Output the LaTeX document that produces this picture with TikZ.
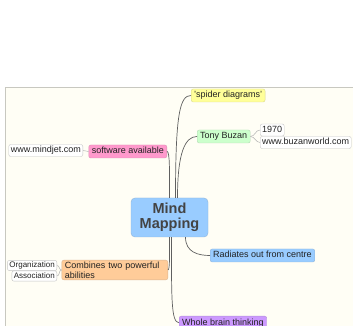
\documentclass[tikz,border=0pt]{standalone}
\usepackage{fontspec}
\setmainfont{Liberation Sans}
\usepackage{xcolor}
\usepackage{tikz}
\usetikzlibrary{calc}

\definecolor{paper}{HTML}{FFFEF5}
\definecolor{frame}{HTML}{C8C8C0}
\definecolor{ink}{HTML}{222222}
\definecolor{centreblue}{HTML}{99CCFF}
\definecolor{spideryellow}{HTML}{FFFF99}
\definecolor{buzangreen}{HTML}{CCFFCC}
\definecolor{softpink}{HTML}{FF99CC}
\definecolor{radblue}{HTML}{99CCFF}
\definecolor{combineorange}{HTML}{FFCC99}
\definecolor{brainpurple}{HTML}{CC99FF}

\begin{document}
\begin{tikzpicture}[
    x=1pt, y=1pt,
    bubble/.style={rectangle, rounded corners=2pt, draw=#1!70!gray, fill=#1, text=ink},
    topic/.style={bubble=#1, font=\fontsize{9}{10}\selectfont, inner xsep=3pt, inner ysep=2pt, text height=7pt, text depth=2pt},
    leaf/.style={bubble=white, draw=gray!45, font=\fontsize{9}{10}\selectfont, inner xsep=2pt, inner ysep=1.5pt, text height=7pt, text depth=2pt},
    tinyleaf/.style={leaf, font=\fontsize{8}{9}\selectfont, inner ysep=1pt, text height=6.5pt, text depth=1.8pt},
    centre/.style={bubble=centreblue, rounded corners=4pt, minimum width=77pt, minimum height=39pt, align=center, font=\bfseries\fontsize{14.5}{15}\selectfont, text=ink!85!white},
    branch/.style={draw=gray!75!black, line width=0.7pt},
    twig/.style={draw=gray!60, line width=0.5pt}
]
\useasboundingbox (0,0) rectangle (353,326);
\clip (0,0) rectangle (353,326);

% paper
\draw[frame, fill=paper, line width=0.8pt] (5,-10) rectangle (370,239);

% central topic
\node[centre] (mind) at (169.5,108.5) {Mind\\Mapping};

% main topics
\node[topic=spideryellow, anchor=west] (spider) at (191,230.5) {'spider diagrams'};
\node[topic=buzangreen, anchor=west] (tony) at (197,189.5) {Tony Buzan};
\node[topic=softpink, anchor=east] (software) at (167,174.5) {software available};
\node[topic=radblue, anchor=west] (radiates) at (210,70.5) {Radiates out from centre};
\node[bubble=combineorange, anchor=east, font=\fontsize{9}{10}\selectfont, text width=100pt, align=left, inner xsep=3pt, inner ysep=1.5pt] (combines) at (168,56) {Combines two powerful abilities};
\node[topic=brainpurple, anchor=north west] (whole) at (179,10) {Whole brain thinking};

% subtopics
\node[leaf, anchor=west] (year) at (260,196) {1970};
\node[leaf, anchor=west] (buzanweb) at (260,183.5) {www.buzanworld.com};
\node[leaf, anchor=east] (mindjet) at (83,175.5) {www.mindjet.com};
\node[tinyleaf, anchor=east] (organization) at (57,60.5) {Organization};
\node[tinyleaf, anchor=east] (association) at (57,50) {Association};

% branches from the centre
\draw[branch] ($(mind.north)+(6,0)$) .. controls +(0,85) and +(-11,0) .. (spider.west);
\draw[branch] ($(mind.north)+(8,0)$) .. controls +(0,45) and +(-12,0) .. (tony.west);
\draw[branch] (software.east) .. controls +(3,0) and +(0,25) .. (mind.north);
\draw[branch] (combines.east) .. controls +(2,0) and +(0,-15) .. (mind.south);
\draw[branch] ($(mind.south)+(2,0)$) .. controls +(0,-60) and +(-8,0) .. (whole.west);
\draw[branch] ($(mind.south)+(16,0)$) .. controls +(0,-15) and +(-12,0) .. (radiates.west);

% twigs
\draw[twig] (tony.east) to[out=0, in=180] (year.west);
\draw[twig] (tony.east) to[out=0, in=180] (buzanweb.west);
\draw[twig] (mindjet.east) -- (software.west);
\draw[twig] (combines.west) to[out=180, in=0] (organization.east);
\draw[twig] (combines.west) to[out=180, in=0] (association.east);

\end{tikzpicture}
\end{document}
